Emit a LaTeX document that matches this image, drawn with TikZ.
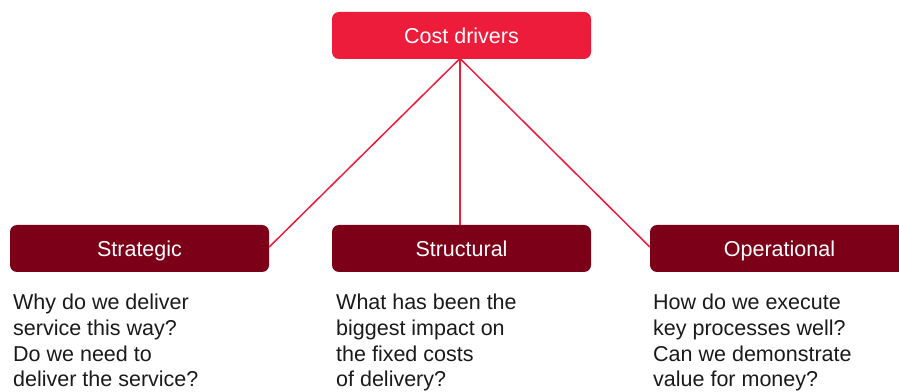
\documentclass[tikz,border=0pt]{standalone}
\usepackage{fontspec}
\setmainfont{Liberation Sans}
\definecolor{brightred}{HTML}{ED1C3A}
\definecolor{darkred}{HTML}{7D0019}
\definecolor{bodytext}{HTML}{1A1A1A}
\begin{document}
\begin{tikzpicture}[x=1pt,y=1pt,
  headbox/.style={fill=brightred, rounded corners=7pt, minimum width=259pt,
    minimum height=47pt, inner sep=0pt, text=white, text height=15.5pt, text depth=0pt,
    font=\fontsize{21.5}{25.7}\selectfont},
  groupbox/.style={headbox, fill=darkred},
  question/.style={anchor=north west, align=left, inner sep=0pt, text=bodytext,
    font=\fontsize{21.5}{25.7}\selectfont},
  link/.style={draw=brightred, line width=1.5pt}]
\useasboundingbox (0,0) rectangle (899,391);
\clip (0,0) rectangle (899,391);

% top node
\node[headbox] (drivers) at (461.5,355.5) {Cost drivers};
\coordinate (hub) at (460,332.5);

% three categories
\node[groupbox] (strategic) at (139.5,142.5) {Strategic};
\node[groupbox] (structural) at (461.5,142.5) {Structural};
\node[groupbox] (operational) at (779.5,142.5) {Operational};

% connectors
\draw[link] (hub) -- ([yshift=1.5pt]strategic.east);
\draw[link] (hub) -- (hub |- structural.north);
\draw[link] (hub) -- ([yshift=1.5pt]operational.west);

% questions
\node[question] (q1) at (13,97.1) {Why do we deliver\\service this way?\\Do we need to\\deliver the service?};
\node[question] (q2) at (336,97.1) {What has been the\\biggest impact on\\the fixed costs\\of delivery?};
\node[question] (q3) at (653,97.1) {How do we execute\\key processes well?\\Can we demonstrate\\value for money?};
\end{tikzpicture}
\end{document}
